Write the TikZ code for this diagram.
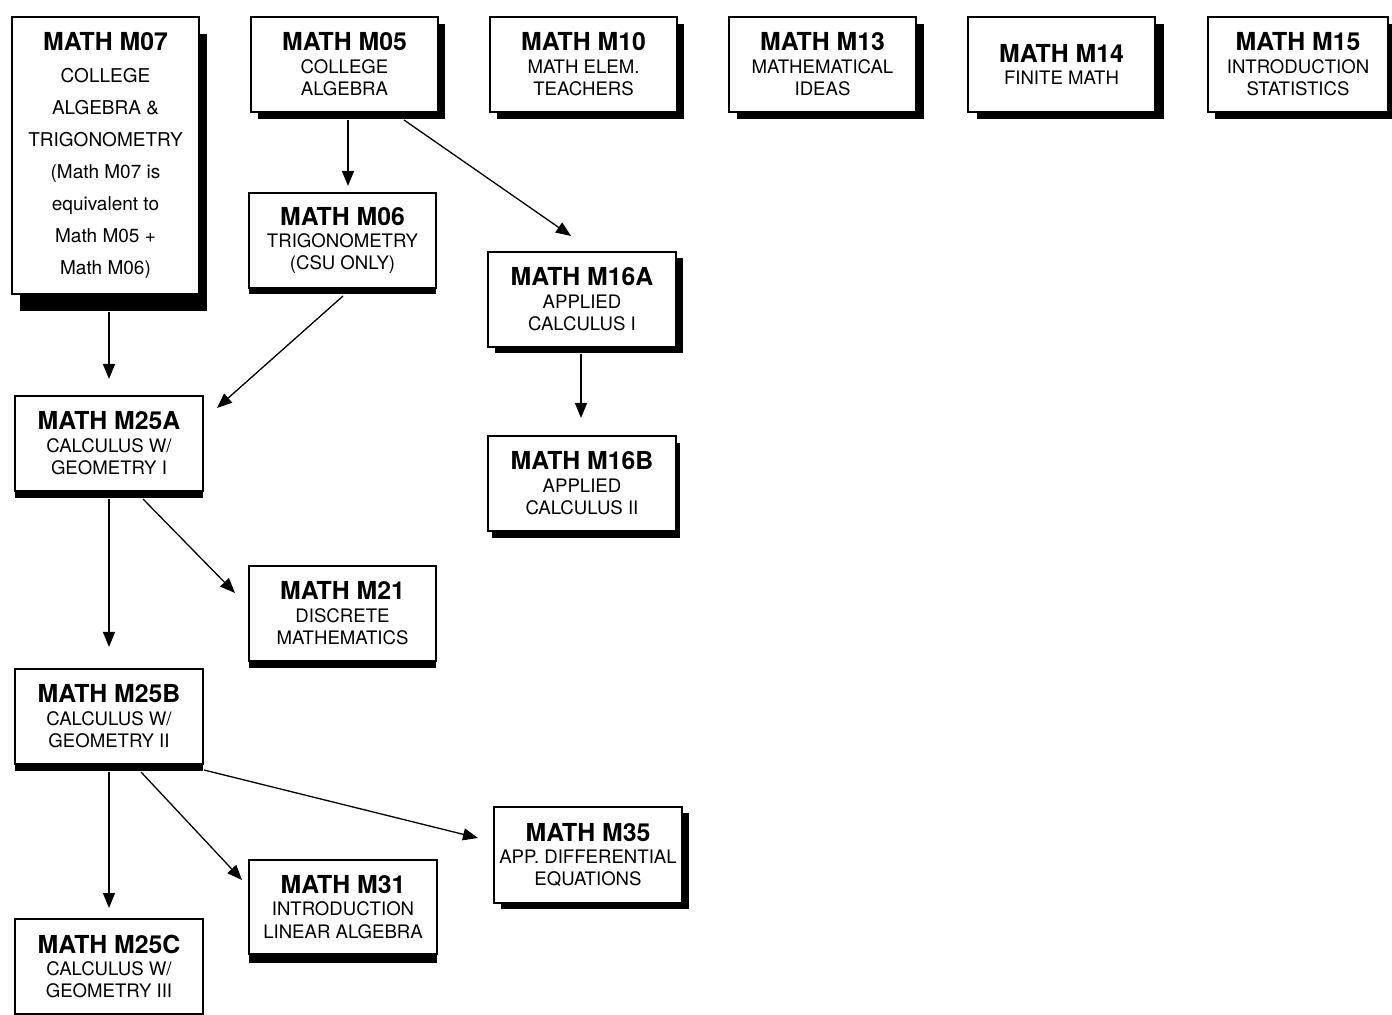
\documentclass[tikz,border=0pt]{standalone}
\usepackage{fontspec}
\setmainfont{TeX Gyre Heros}
\usetikzlibrary{shadows,arrows.meta}
\newcommand{\ctitle}[1]{{\fontsize{12.4}{11}\selectfont\bfseries #1}}
\begin{document}
\begin{tikzpicture}[x=0.5pt,y=-0.5pt,
  course/.style={draw, line width=1pt, fill=white, anchor=north west, inner sep=0pt,
    align=center, minimum width=93.5pt, minimum height=47.5pt,
    font=\fontsize{9.3}{11.2}\selectfont},
  shad/.style 2 args={drop shadow={shadow xshift=#1, shadow yshift=-#2, fill=black, opacity=1}},
  arr/.style={line width=0.65pt, -{Triangle[length=7.5pt,width=6pt]}}]
\useasboundingbox (0,0) rectangle (1392,1015);

% top row
\node[course, shad={4pt}{8.5pt}, minimum height=138.5pt, font=\fontsize{9.5}{16}\selectfont] (m07) at (11,16)
  {\ctitle{MATH M07}\\COLLEGE\\ALGEBRA \&\\TRIGONOMETRY\\(Math M07 is\\equivalent to\\Math M05 +\\Math M06)};
\node[course, shad={3.5pt}{3.5pt}] (m05) at (250,16) {\ctitle{MATH M05}\\COLLEGE\\ALGEBRA};
\node[course, shad={3.5pt}{3.5pt}] (m10) at (489,16) {\ctitle{MATH M10}\\MATH ELEM.\\TEACHERS};
\node[course, shad={4pt}{3.5pt}] (m13) at (728,16) {\ctitle{MATH M13}\\MATHEMATICAL\\IDEAS};
\node[course, shad={4.5pt}{3.5pt}] (m14) at (967,16) {\ctitle{MATH M14}\\FINITE MATH};
\node[course, shad={3.5pt}{3.5pt}, minimum width=90pt] (m15) at (1207,16) {\ctitle{MATH M15}\\INTRODUCTION\\STATISTICS};

% second level
\node[course, shad={0pt}{3pt}] (m06) at (248,192) {\ctitle{MATH M06}\\TRIGONOMETRY\\(CSU ONLY)};
\node[course, shad={3.5pt}{3pt}, minimum width=94pt] (m16a) at (487,251) {\ctitle{MATH M16A}\\APPLIED\\CALCULUS I};
\node[course, shad={2pt}{3.5pt}, minimum width=94pt] (m16b) at (487,435) {\ctitle{MATH M16B}\\APPLIED\\CALCULUS II};

% calculus chain
\node[course, shad={0pt}{3.5pt}, minimum width=94pt] (m25a) at (14,395) {\ctitle{MATH M25A}\\CALCULUS W/\\GEOMETRY I};
\node[course, shad={0pt}{3.5pt}] (m21) at (248,565) {\ctitle{MATH M21}\\DISCRETE\\MATHEMATICS};
\node[course, shad={0pt}{3.5pt}, minimum width=94pt] (m25b) at (14,668) {\ctitle{MATH M25B}\\CALCULUS W/\\GEOMETRY II};
\node[course, minimum width=94pt] (m25c) at (14,918) {\ctitle{MATH M25C}\\CALCULUS W/\\GEOMETRY III};
\node[course, shad={0pt}{4.5pt}, minimum width=94pt, minimum height=47pt] (m31) at (248,859) {\ctitle{MATH M31}\\INTRODUCTION\\LINEAR ALGEBRA};
\node[course, shad={3.5pt}{3pt}, minimum width=94pt, minimum height=48pt] (m35) at (493,806) {\ctitle{MATH M35}\\APP. DIFFERENTIAL\\EQUATIONS};

% connectors
\draw[arr] ([shift={(3.5,7)}]m05.south) -- ([shift={(5.5,-6)}]m06.north);
\draw[arr] ([shift={(59.5,7)}]m05.south) -- ([shift={(-11,-15)}]m16a.north);
\draw[arr] ([shift={(3.5,17)}]m07.south) -- ([shift={(0,-16)}]m25a.north);
\draw[arr] ([shift={(0.5,7)}]m06.south) -- ([shift={(13,13)}]m25a.north east);
\draw[arr] ([shift={(-1,6)}]m16a.south) -- ([shift={(-1,-17)}]m16b.north);
\draw[arr] ([shift={(34,7)}]m25a.south) -- ([shift={(-13,28)}]m21.north west);
\draw[arr] ([shift={(0,7)}]m25a.south) -- ([shift={(0,-21)}]m25b.north);
\draw[arr] ([shift={(0,7)}]m25b.south) -- ([shift={(0,-10)}]m25c.north);
\draw[arr] ([shift={(32,7)}]m25b.south) -- ([shift={(-6,21)}]m31.north west);
\draw[arr] ([shift={(0,5)}]m25b.south east) -- ([shift={(-15,32)}]m35.north west);
\end{tikzpicture}
\end{document}
